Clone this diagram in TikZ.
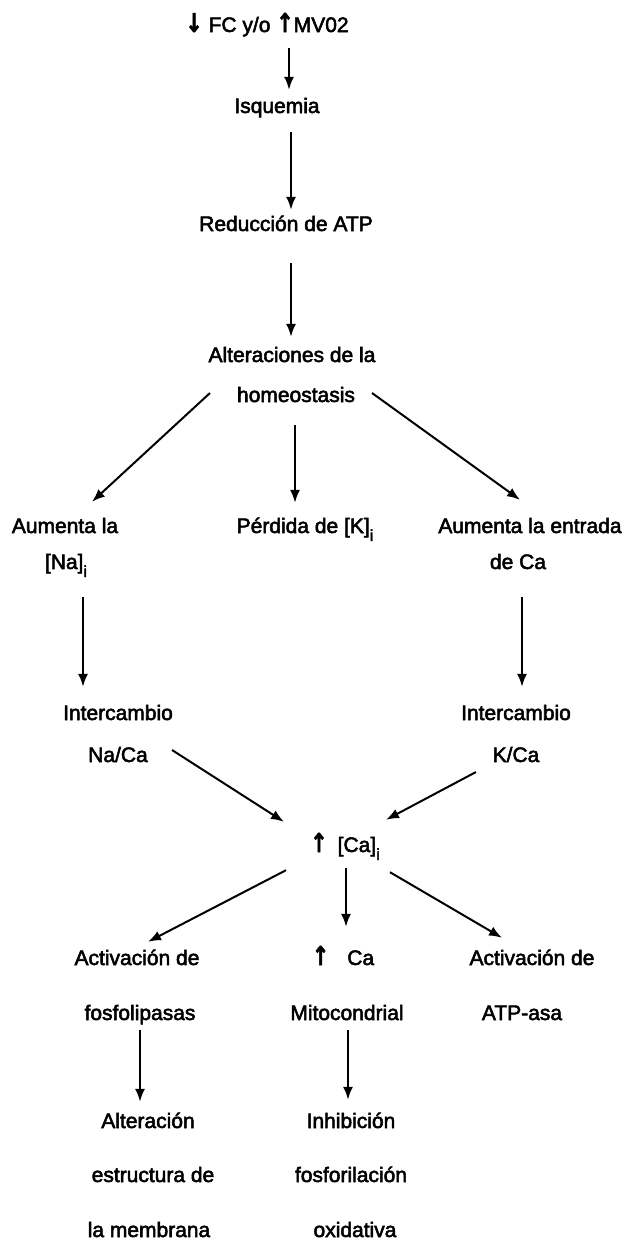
\documentclass[tikz,border=0pt]{standalone}
\usepackage{fontspec}
\usepackage{graphicx}
\setmainfont{Liberation Sans}[FakeBold=2.5]
\newfontfamily\arrfont{DejaVu Sans}[FakeBold=2]
\usetikzlibrary{arrows.meta}
\tikzset{>={Latex[length=13pt,width=10pt]}}
\tikzstyle{lbl}=[inner sep=0pt,text height=15pt,text depth=5pt,font=\fontsize{21}{24}\selectfont]
\tikzstyle{flow}=[->,line width=2pt]
\newcommand{\uparr}{\scalebox{0.8}[1]{\fontsize{26}{26}\arrfont\bfseries ↑}}
\newcommand{\dnarr}{\scalebox{0.8}[1]{\fontsize{26}{26}\arrfont\bfseries ↓}}
\newcommand{\subi}{\raisebox{-8pt}{\fontsize{16}{16}\selectfont i}}

\begin{document}
\begin{tikzpicture}[x=1pt,y=-1pt]
  \useasboundingbox (0,0) rectangle (625,1242);
  \node[lbl] (top) at (267,27) {\dnarr\ FC y/o \uparr MV02};
  \node[lbl] (isq) at (277,108) {Isquemia};
  \node[lbl] (red) at (286,226) {Reducción de ATP};
  \node[lbl] (alt) at (292,357) {Alteraciones de la};
  \node[lbl] (hom) at (296,397) {homeostasis};
  \node[lbl] (aum1) at (65,528) {Aumenta la};
  \node[lbl] (na) at (66,564) {[Na]\subi};
  \node[lbl] (perd) at (305,528) {Pérdida de [K]\subi};
  \node[lbl] (aum2) at (530,528) {Aumenta la entrada};
  \node[lbl] (deca) at (518,564) {de Ca};
  \node[lbl] (int1) at (118,715) {Intercambio};
  \node[lbl] (naca) at (118,757) {Na/Ca};
  \node[lbl] (int2) at (516,715) {Intercambio};
  \node[lbl] (kca) at (516,757) {K/Ca};
  \node[lbl] (ca) at (345,847) {\uparr\hspace{10pt}[Ca]\subi};
  \node[lbl] (act1) at (137,960) {Activación de};
  \node[lbl] (fosf) at (140,1015) {fosfolipasas};
  \node[lbl] (caup) at (343,960) {\uparr\hspace{18pt}Ca};
  \node[lbl] (mito) at (347,1015) {Mitocondrial};
  \node[lbl] (act2) at (532,960) {Activación de};
  \node[lbl] (atp) at (522,1015) {ATP-asa};
  \node[lbl] (alt2) at (148,1123) {Alteración};
  \node[lbl] (estr) at (153,1177) {estructura de};
  \node[lbl] (memb) at (149,1232) {la membrana};
  \node[lbl] (inh) at (351,1123) {Inhibición};
  \node[lbl] (fosfo) at (351,1177) {fosforilación};
  \node[lbl] (oxi) at (355,1232) {oxidativa};

  \draw[flow] ([xshift=22pt,yshift=-11pt]top.south) -- ([xshift=12pt,yshift=8pt]isq.north);
  \draw[flow] ([xshift=14pt,yshift=-14pt]isq.south) -- ([xshift=5pt,yshift=6pt]red.north);
  \draw[flow] ([xshift=5pt,yshift=-27pt]red.south) -- ([xshift=-1pt,yshift=10pt]alt.north);
  \draw[flow] ([xshift=-86pt,yshift=4pt]hom.center) -- ([xshift=27pt,yshift=16pt]aum1.north);
  \draw[flow] ([xshift=-1pt,yshift=-18pt]hom.south) -- ([xshift=-10pt,yshift=15pt]perd.north);
  \draw[flow] ([xshift=76pt,yshift=4pt]hom.center) -- ([xshift=-10pt,yshift=18pt]aum2.north);
  \draw[flow] ([xshift=17pt,yshift=-23pt]na.south) -- ([xshift=-35pt,yshift=18pt]int1.north);
  \draw[flow] ([xshift=4pt,yshift=-23pt]deca.south) -- ([xshift=6pt,yshift=18pt]int2.north);
  \draw[flow] ([xshift=54pt,yshift=7pt]naca.center) -- ([xshift=-61pt,yshift=15pt]ca.north);
  \draw[flow] ([xshift=-40pt,yshift=-15pt]kca.center) -- ([xshift=41pt,yshift=17pt]ca.north);
  \draw[flow] ([xshift=-59pt,yshift=-13pt]ca.south) -- ([xshift=11pt,yshift=8pt]act1.north);
  \draw[flow] ([xshift=1pt,yshift=-11pt]ca.south) -- ([xshift=3pt,yshift=23pt]caup.north);
  \draw[flow] ([xshift=45pt,yshift=-15pt]ca.south) -- ([xshift=-30pt,yshift=12pt]act2.north);
  \draw[flow] ([yshift=-5pt]fosf.south) -- ([xshift=-8pt,yshift=11pt]alt2.north);
  \draw[flow] ([xshift=1pt,yshift=-5pt]mito.south) -- ([xshift=-3pt,yshift=13pt]inh.north);
\end{tikzpicture}
\end{document}
